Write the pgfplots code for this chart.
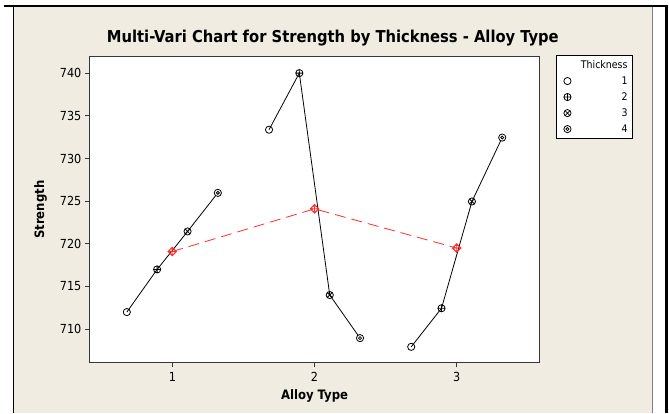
\documentclass[border=0pt]{standalone}
\usepackage{fontspec}
\setmainfont{DejaVu Sans Condensed}
\usepackage{pgfplots}
\pgfplotsset{compat=1.18}
\definecolor{bg}{RGB}{240,236,226}
\definecolor{meanred}{RGB}{255,45,45}
\definecolor{axgray}{RGB}{55,55,55}

\pgfdeclareplotmark{dcirc}{%
  \pgfpathcircle{\pgfpointorigin}{\pgfplotmarksize}%
  \pgfusepathqfillstroke
  \pgfpathcircle{\pgfpointorigin}{0.42\pgfplotmarksize}%
  \pgfusepathqstroke}
\pgfdeclareplotmark{dplus}{%
  \pgfpathmoveto{\pgfqpoint{1.15\pgfplotmarksize}{0pt}}%
  \pgfpathlineto{\pgfqpoint{0pt}{1.15\pgfplotmarksize}}%
  \pgfpathlineto{\pgfqpoint{-1.15\pgfplotmarksize}{0pt}}%
  \pgfpathlineto{\pgfqpoint{0pt}{-1.15\pgfplotmarksize}}%
  \pgfpathclose
  \pgfpathcircle{\pgfpointorigin}{0.8\pgfplotmarksize}%
  \pgfpathmoveto{\pgfqpoint{1.15\pgfplotmarksize}{0pt}}%
  \pgfpathlineto{\pgfqpoint{-1.15\pgfplotmarksize}{0pt}}%
  \pgfpathmoveto{\pgfqpoint{0pt}{1.15\pgfplotmarksize}}%
  \pgfpathlineto{\pgfqpoint{0pt}{-1.15\pgfplotmarksize}}%
  \pgfusepathqstroke}

\begin{document}
\begin{tikzpicture}[x=1pt,y=1pt]
\fill[white] (0,0) rectangle (669,414);
\fill[bg] (13.5,0) rectangle (653,408);
\draw[black,line width=2pt] (4,408) -- (669,408);
\draw[black,line width=1.2pt] (13.5,0) -- (13.5,408);
\draw[gray,line width=1pt] (653.5,0) -- (653.5,407);
\fill[black] (666,0) rectangle (669,409);
\useasboundingbox (0,0) rectangle (669,414);

\node[anchor=base,font=\fontsize{16.4}{19}\selectfont\bfseries] at (333.3,371)
  {Multi-Vari Chart for Strength by Thickness - Alloy Type};

\begin{axis}[
  at={(90pt,51pt)}, anchor=south west,
  scale only axis, width=450pt, height=306pt,
  xmin=0.42, xmax=3.58, ymin=706.1, ymax=741.9,
  xtick={1,2,3}, ytick={710,715,...,740},
  axis background/.style={fill=white},
  axis line style={draw=axgray,line width=1pt},
  tick align=outside, tick pos=left,
  major tick length=5pt,
  every tick/.style={draw=axgray,line width=0.8pt},
  ticklabel style={font=\fontsize{12.5}{14}\selectfont},
  xticklabel style={yshift=-1.5pt},
  /pgf/number format/assume math mode=true,
  xlabel={Alloy Type}, ylabel={Strength},
  xlabel style={font=\fontsize{13}{15}\selectfont\bfseries, at={(axis description cs:0.5,-0.121)}, anchor=base},
  ylabel style={font=\fontsize{13}{15}\selectfont\bfseries, at={(axis description cs:-0.1096,0.5)}, anchor=center},
  legend style={at={(1.0378,1.0065)}, anchor=north west, draw=black, line width=0.6pt, fill=white,
    font=\fontsize{10.5}{12}\selectfont, legend cell align=right,
    inner xsep=3pt, inner ysep=3.5pt, row sep=3.8pt, column sep=3pt,
    nodes={inner sep=1.5pt}},
  legend image code/.code={\path[draw=none,fill=none] (0pt,-3pt) rectangle (17pt,3pt);
    \draw[#1] plot coordinates {(8pt,0pt)};},
]
% connecting lines within each alloy type
\addplot[black, line width=0.8pt, forget plot] coordinates {(0.68,712.0) (0.893,717.0) (1.107,721.45) (1.32,725.97)};
\addplot[black, line width=0.8pt, forget plot] coordinates {(1.68,733.37) (1.893,740.0) (2.107,714.0) (2.32,708.95)};
\addplot[black, line width=0.8pt, forget plot] coordinates {(2.68,707.93) (2.893,712.45) (3.107,724.96) (3.32,732.45)};
% means
\addplot[meanred, line width=0.8pt, dash pattern=on 11pt off 6pt, forget plot] coordinates {(1,719.1) (2,724.1) (3,719.5)};
\addplot[meanred, only marks, mark=dplus, mark size=3.8pt, mark options={solid,line width=0.75pt,draw=meanred}, forget plot] coordinates {(1,719.1) (2,724.1) (3,719.5)};
\addlegendimage{empty legend}
\addlegendentry{Thickness}
% points by thickness
\addplot[only marks, mark=o, mark size=3.6pt, mark options={draw=black,fill=white,line width=0.8pt}] coordinates {(0.68,712.0) (1.68,733.37) (2.68,707.93)};
\addlegendentry{1}
\addplot[only marks, mark=oplus, mark size=3.6pt, mark options={draw=black,fill=white,line width=0.8pt}] coordinates {(0.893,717.0) (1.893,740.0) (2.893,712.45)};
\addlegendentry{2}
\addplot[only marks, mark=otimes, mark size=3.6pt, mark options={draw=black,fill=white,line width=0.8pt}] coordinates {(1.107,721.45) (2.107,714.0) (3.107,724.96)};
\addlegendentry{3}
\addplot[only marks, mark=dcirc, mark size=3.6pt, mark options={draw=black,fill=white,line width=0.8pt}] coordinates {(1.32,725.97) (2.32,708.95) (3.32,732.45)};
\addlegendentry{4}
\end{axis}
\end{tikzpicture}
\end{document}
